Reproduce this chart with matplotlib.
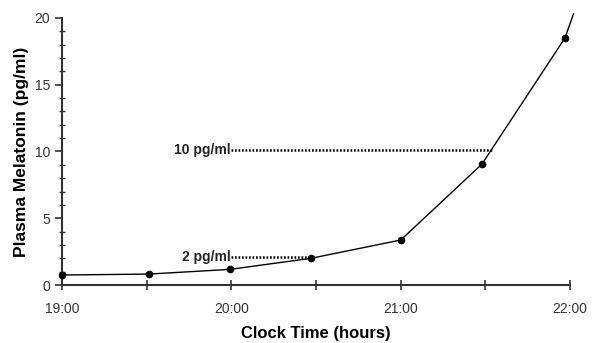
import numpy as np
import matplotlib
matplotlib.use("Agg")
import matplotlib.pyplot as plt

plt.rcParams["font.family"] = ["Liberation Sans", "DejaVu Sans"]

# clock time in hours, melatonin in pg/ml
hours = [19.0, 19.51, 19.99, 20.47, 21.0, 21.48, 21.97]
melatonin = [0.75, 0.82, 1.17, 2.0, 3.37, 9.06, 18.5]
# the curve keeps going past the last sample and leaves the plot at the top
tail_hours = [21.97, 22.02]
tail_melatonin = [18.5, 20.3]

thresholds = [2, 10]
threshold_labels = ["2 pg/ml", "10 pg/ml"]
threshold_start = 20.0

xticks = [19, 20, 21, 22]
xtick_labels = ["19:00", "20:00", "21:00", "22:00"]
yticks = [0, 5, 10, 15, 20]


def crossing_time(level):
    # first time the (linear) curve reaches the given level
    for i in range(1, len(hours)):
        if melatonin[i] >= level:
            x0, x1 = hours[i - 1], hours[i]
            y0, y1 = melatonin[i - 1], melatonin[i]
            return x0 + (level - y0) / (y1 - y0) * (x1 - x0)
    return hours[-1]


fig = plt.figure(figsize=(5.92, 3.43), dpi=100)
ax = fig.add_axes([0.105, 0.169, 0.858, 0.779])

ax.plot(hours, melatonin, color="black", lw=1.0, marker="o", ms=4.5,
        clip_on=False, zorder=3)
ax.plot(tail_hours, tail_melatonin, color="black", lw=1.0, clip_on=False, zorder=3)

for level, label in zip(thresholds, threshold_labels):
    end = crossing_time(level) + 0.01
    ax.plot([threshold_start, end], [level + 0.1, level + 0.1], color="black",
            lw=1.8, linestyle=(0, (0.7, 0.7)), zorder=2)
    ax.text(threshold_start - 0.005, level + 0.1, label, ha="right", va="center",
            fontsize=10, fontweight="bold", color="#222222")

ax.set_xlim(19, 22)
ax.set_ylim(0, 20)
ax.set_xticks(xticks)
ax.set_xticklabels(xtick_labels)
ax.set_xticks(np.arange(19.5, 22, 1.0), minor=True)
ax.set_yticks(yticks)
ax.set_yticks(np.arange(0, 21, 1), minor=True)

for side in ["top", "right"]:
    ax.spines[side].set_visible(False)
for side in ["left", "bottom"]:
    ax.spines[side].set_linewidth(1.5)
    ax.spines[side].set_color("#333333")

ax.tick_params(axis="x", which="both", direction="inout", length=7, width=1.2,
               colors="#333333", labelsize=10, pad=9)
ax.tick_params(axis="y", which="major", direction="out", length=5, width=1.2,
               colors="#333333", labelsize=10)
ax.tick_params(axis="y", which="minor", direction="inout", length=4, width=1.0,
               colors="#333333")
for lab in ax.get_xticklabels() + ax.get_yticklabels():
    lab.set_color("#333333")

ax.set_xlabel("Clock Time (hours)", fontsize=12, fontweight="bold", labelpad=7)
ax.set_ylabel("Plasma Melatonin (pg/ml)", fontsize=12.5, fontweight="bold", labelpad=4)

fig.savefig("out.png", dpi=100)
